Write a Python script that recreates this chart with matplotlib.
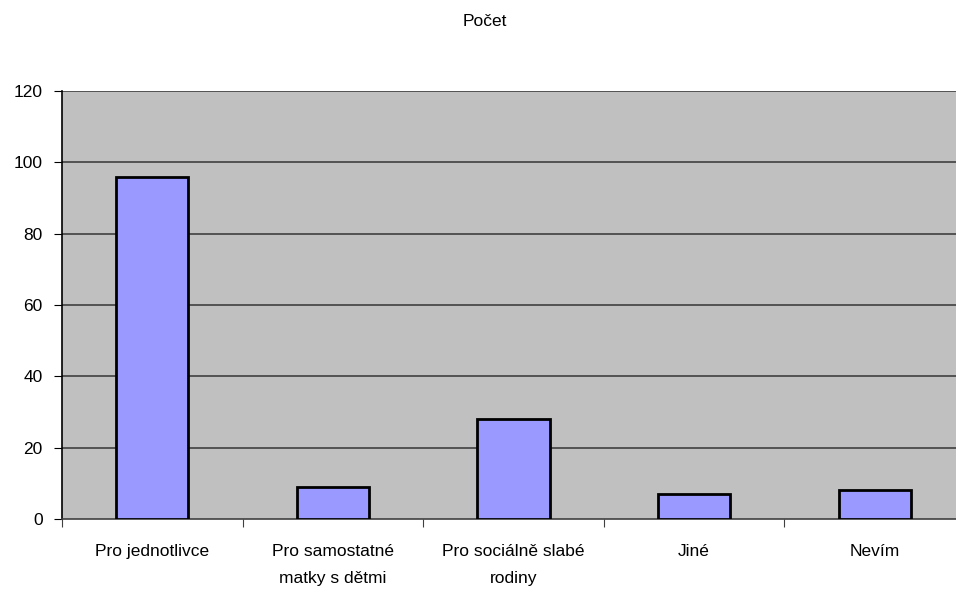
import matplotlib.pyplot as plt
import numpy as np

categories = ["Pro jednotlivce", "Pro samostatné\nmatky s dětmi", "Pro sociálně slabé\nrodiny", "Jiné", "Nevím"]
values = [96, 9, 28, 7, 8]
yticks = [0, 20, 40, 60, 80, 100, 120]

plt.rcParams['font.family'] = ['Liberation Sans', 'DejaVu Sans']

fig = plt.figure(figsize=(9.56, 5.9), dpi=100)
W, H = 956, 590
# plot area runs a little past the right edge, like the original
ax = fig.add_axes([62 / W, 1 - 519 / H, 903 / W, 428 / H])
ax.set_facecolor('#C0C0C0')

x = np.arange(len(categories))
ax.bar(x, values, width=0.4, color='#9999FF', edgecolor='black', linewidth=2, zorder=3)

ax.set_xlim(-0.5, len(categories) - 0.5)
ax.set_ylim(0, 120)
ax.set_yticks(yticks)
ax.set_yticklabels([str(v) for v in yticks], fontsize=12.5)
for v in yticks[1:]:
    ax.axhline(v, color='#404040', linewidth=1.2, zorder=1)

ax.set_xticks(np.arange(len(categories) + 1) - 0.5)
ax.set_xticklabels([])
ax.set_xticks(x, minor=True)
ax.set_xticklabels(categories, minor=True, fontsize=12.5, linespacing=2.0)
ax.tick_params(axis='x', which='minor', length=0, pad=18)
ax.tick_params(axis='x', which='major', length=6, color='#404040')
ax.tick_params(axis='y', length=6, pad=8)

for s in ['top', 'right']:
    ax.spines[s].set_visible(False)
ax.spines['left'].set_color('black')
ax.spines['left'].set_linewidth(1.2)
ax.spines['bottom'].set_color('#404040')
ax.spines['bottom'].set_linewidth(1.2)

fig.text(485 / W, 1 - 22 / H, "Počet", ha='center', va='center', fontsize=12.5)

fig.savefig('out.png', dpi=100)
